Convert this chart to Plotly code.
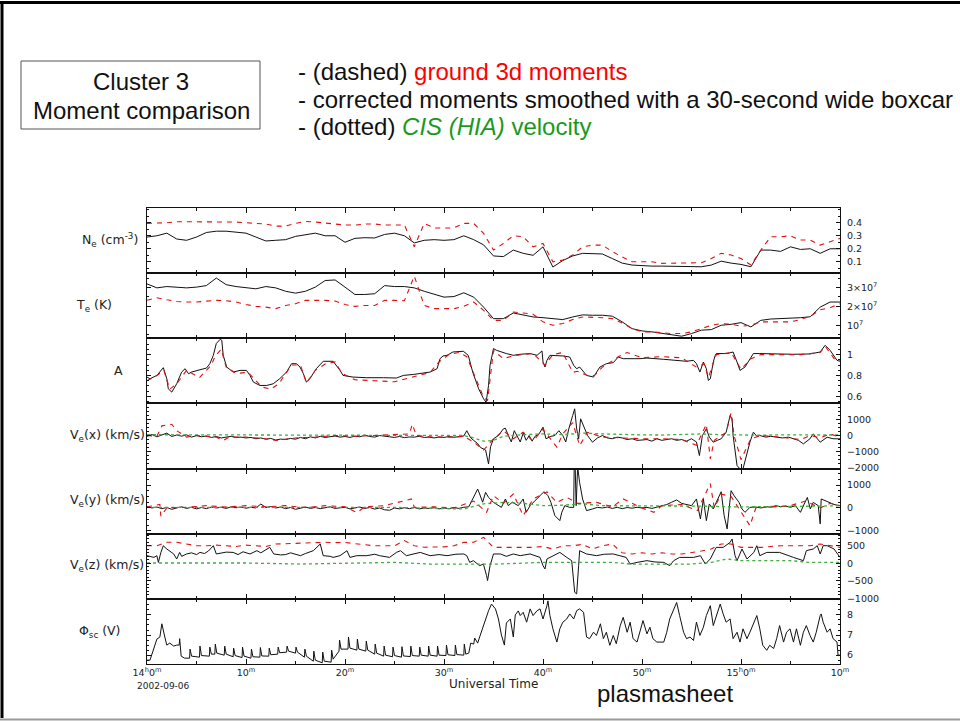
import plotly.graph_objects as go
from plotly.subplots import make_subplots

# ---------------- data (time in minutes after 14:00 UT) ----------------
ne_t = list(range(0, 71))
ne_black = [0.29, 0.30, 0.32, 0.275, 0.265, 0.29, 0.325, 0.335, 0.335, 0.325,
            0.32, 0.29, 0.26, 0.265, 0.27, 0.295, 0.31, 0.32, 0.30, 0.30,
            0.25, 0.28, 0.285, 0.283, 0.31, 0.32, 0.30, 0.245, 0.265, 0.27,
            0.265, 0.27, 0.30, 0.27, 0.23, 0.145, 0.14, 0.19, 0.165, 0.15,
            0.215, 0.06, 0.11, 0.145, 0.165, 0.16, 0.16, 0.125, 0.09, 0.075,
            0.07, 0.067, 0.067, 0.067, 0.067, 0.062, 0.062, 0.075, 0.105, 0.09,
            0.08, 0.062, 0.19, 0.19, 0.18, 0.215, 0.195, 0.20, 0.165, 0.20, 0.20]
ne_red = [0.395, 0.395, 0.40, 0.408, 0.408, 0.408, 0.405, 0.405, 0.408, 0.405,
          0.40, 0.395, 0.39, 0.374, 0.374, 0.395, 0.41, 0.405, 0.40, 0.39,
          0.382, 0.382, 0.39, 0.39, 0.382, 0.382, 0.382, 0.215, 0.395, 0.36,
          0.36, 0.36, 0.395, 0.395, 0.318, 0.19, 0.241, 0.30, 0.292, 0.215,
          0.241, 0.10, 0.113, 0.152, 0.215, 0.228, 0.228, 0.178, 0.138, 0.10,
          0.10, 0.10, 0.088, 0.088, 0.088, 0.088, 0.093, 0.125, 0.165, 0.152,
          0.125, 0.075, 0.19, 0.292, 0.292, 0.30, 0.267, 0.267, 0.228, 0.254, 0.28]

te_t = list(range(0, 71))   # Te in units of 1e7 K
te_black = [3.19, 2.98, 3.05, 3.02, 2.98, 3.02, 3.10, 3.5, 3.15, 3.05,
            2.98, 2.93, 3.05, 2.98, 2.80, 2.70, 2.80, 3.02, 3.37, 3.40,
            3.02, 2.63, 2.63, 2.67, 3.1, 3.05, 3.05, 2.98, 2.80, 2.63,
            2.49, 2.52, 2.72, 2.49, 1.96, 1.35, 1.35, 1.65, 1.53, 1.44,
            1.40, 1.35, 1.30, 1.44, 1.55, 1.53, 1.53, 1.48, 1.18, 0.82,
            0.70, 0.65, 0.56, 0.47, 0.42, 0.56, 0.74, 0.77, 1.0, 1.05,
            1.14, 0.91, 1.26, 1.33, 1.35, 1.35, 1.40, 1.45, 1.96, 2.23, 2.23]
te_red = [2.32, 2.46, 2.35, 2.26, 2.23, 2.23, 2.28, 2.32, 2.30, 2.23,
          2.10, 2.0, 1.96, 1.88, 2.05, 2.14, 2.32, 2.32, 2.32, 2.28,
          2.10, 2.0, 2.05, 2.05, 2.32, 2.32, 2.30, 3.6, 2.05, 1.88,
          1.88, 1.88, 2.0, 2.23, 1.79, 1.26, 1.26, 1.70, 1.65, 1.58,
          1.18, 1.0, 1.09, 1.30, 1.44, 1.44, 1.40, 1.35, 1.12, 0.82,
          0.65, 0.65, 0.60, 0.56, 0.56, 0.65, 0.82, 1.0, 1.09, 1.05,
          0.95, 1.0, 1.18, 1.18, 1.18, 1.18, 1.30, 1.48, 1.82, 1.93, 2.14]

a_t = [0, 0.3, 1.0, 1.3, 1.65, 2.0, 2.15, 2.5, 3.0, 3.5,
       3.85, 4.2, 4.5, 5.35, 6.0, 6.35, 6.7, 7.0, 7.4, 7.55,
       7.7, 8.05, 8.7, 9.4, 10.05, 10.4, 10.75, 11.4, 12.1, 12.75,
       13.4, 14.1, 14.6, 15.1, 15.45, 15.8, 16.1, 16.45, 17.1, 17.8,
       18.8, 19.5, 19.8, 20.8, 22.2, 23.9, 25.2, 25.9, 26.9, 28.6,
       29.3, 29.6, 29.9, 30.3, 30.9, 31.95, 32.45, 32.9, 33.5, 34.0,
       34.25, 34.5, 34.65, 35.0, 35.3, 36.3, 37.0, 37.7, 38.7, 39.4,
       39.9, 40.0, 40.2, 40.4, 40.7, 42.0, 42.7, 43.1, 43.4, 43.7,
       44.4, 45.1, 45.75, 46.4, 47.1, 47.6, 48.1, 49.8, 50.5, 52.2,
       53.5, 54.5, 55.2, 55.5, 55.85, 56.2, 56.5, 56.7, 56.9, 57.2,
       57.4, 57.5, 58.6, 59.2, 59.6, 59.9, 60.4, 60.9, 61.25, 61.9,
       63.6, 65.3, 66.96, 68.0, 68.5, 69.0, 69.7, 70.0]
a_black = [0.785, 0.769, 0.801, 0.833, 0.875, 0.769, 0.673, 0.641, 0.721, 0.833,
           0.865, 0.817, 0.833, 0.855, 0.871, 0.913, 0.993, 1.106, 1.147, 1.137,
           0.993, 0.881, 0.833, 0.849, 0.849, 0.801, 0.737, 0.705, 0.705, 0.721,
           0.769, 0.833, 0.913, 0.913, 0.881, 0.817, 0.737, 0.769, 0.865, 0.936,
           0.936, 0.849, 0.801, 0.785, 0.779, 0.779, 0.776, 0.801, 0.81, 0.833,
           0.865, 0.961, 0.987, 0.993, 1.025, 1.032, 0.993, 0.833, 0.673, 0.577,
           0.544, 0.705, 0.897, 1.058, 1.041, 1.01, 0.993, 1.003, 1.01, 0.993,
           1.035, 0.929, 0.881, 0.945, 0.993, 0.987, 0.977, 0.897, 0.865, 0.881,
           0.801, 0.785, 0.881, 0.913, 0.923, 0.977, 0.961, 0.961, 0.967, 0.955,
           0.945, 0.936, 0.945, 0.913, 0.833, 0.929, 0.865, 0.753, 0.769, 0.929,
           0.993, 1.01, 1.01, 1.025, 0.929, 0.849, 0.881, 0.961, 1.01, 1.01,
           1.003, 1.003, 1.006, 1.025, 1.089, 1.041, 0.945, 0.936]
a_red_t = [0, 1, 1.7, 2.3, 3, 4, 5.3, 6.5, 6.9, 7.5,
           8, 9, 10.2, 11.6, 12.5, 13.3, 14.6, 15.5, 16.1, 17,
           18, 19, 19.7, 21, 23, 25, 27, 28.6, 29.5, 30.5,
           31.5, 32.3, 33, 34, 34.4, 35, 36, 37, 38, 39,
           40.2, 41, 42, 43, 43.5, 44.5, 45.2, 46, 47, 47.6,
           48.5, 50, 52, 54, 55.5, 56.3, 56.7, 57.5, 59, 60,
           61, 62, 64, 66, 68, 68.5, 69.5, 70]
a_red = [0.75, 0.80, 0.85, 0.67, 0.72, 0.85, 0.78, 0.90, 0.99, 1.05,
         0.88, 0.82, 0.83, 0.69, 0.67, 0.72, 0.90, 0.90, 0.73, 0.85,
         0.91, 0.93, 0.82, 0.76, 0.75, 0.74, 0.79, 0.83, 0.93, 1.0,
         1.02, 0.98, 0.82, 0.59, 0.56, 1.04, 0.96, 0.99, 1.00, 1.01,
         0.90, 1.0, 1.02, 0.83, 0.84, 0.80, 0.80, 0.88, 0.94, 0.98,
         1.02, 0.97, 0.98, 0.97, 0.88, 0.91, 0.78, 1.0, 1.02, 0.86,
         0.96, 1.0, 1.0, 1.0, 1.02, 1.08, 0.95, 0.95]

vx_t = [0, 0.5, 1, 1.5, 2, 2.5, 3, 3.5, 4, 4.5,
        5, 5.5, 6, 6.5, 7, 7.5, 8, 8.5, 9, 9.5,
        10, 10.5, 11, 11.5, 12, 12.5, 13, 13.5, 14, 14.5,
        15, 15.5, 16, 16.5, 17, 17.5, 18, 18.5, 19, 19.5,
        20, 20.5, 21, 21.5, 22, 22.5, 23, 23.5, 24, 24.5,
        25, 25.5, 26, 26.5, 27, 27.5, 28, 28.5, 29, 29.5,
        30, 30.5, 31, 31.5, 32,
        32.3, 32.7, 33, 33.4, 33.7, 34.0, 34.2, 34.5, 34.7, 35.0,
        35.5, 36.0, 36.2, 36.5, 36.8, 37.1, 37.4, 37.7, 38.0, 38.3,
        38.6, 38.9, 39.2, 39.6, 40.0, 40.3, 40.8, 41.2, 41.6, 42.0,
        42.3, 42.6, 43.0, 43.2, 43.4, 43.6, 43.8, 44.1, 44.5, 45.0,
        45.5, 46.0, 46.5, 47.0, 47.5, 48.0, 48.5, 49.0, 49.5, 50.0,
        50.5, 51.0, 51.5, 52.0, 52.5, 53.0, 53.5, 54.0, 54.5, 55.0,
        55.5, 55.8, 56.1, 56.5, 56.8, 57.2, 57.6, 58.0, 58.5, 58.9,
        59.1, 59.2, 59.6, 59.9, 60.2, 60.6, 60.9, 61.25, 61.6, 61.9,
        62.5, 63.0, 63.6, 64.2, 64.8, 65.3, 65.8, 66.3, 66.96, 67.3,
        67.7, 68.0, 68.7, 69.3, 70.0]
vx_black = [-50, 60, -80, 20, 150, -60, 30, -40, 40, -100,
            0, -80, -30, -120, -60, -150, -100, -50, -120, -100,
            -150, -120, -200, -150, -230, -180, -280, -220, -250, -180,
            -230, -120, -200, -80, -150, -50, -120, -80, -30, -100,
            -60, -120, -40, -80, 20, -60, -100, 0, -60, -80,
            -120, -60, -130, -90, -100, -50, -120, -100, -150, -90,
            -120, -60, -110, -80, -30,
            300, -150, -300, -500, -750, -820, -900, -1760, -700, -200,
            0, 414, 450, 0, -400, 300, -100, -400, 150, -300,
            0, -350, -50, 100, 517, -200, -50, 0, 300, 0,
            -400, 400, 1242, 1656, 414, -200, 1035, 600, 0, -414,
            -150, 0, -150, -200, -100, -150, -250, -200, -300, -280,
            -250, -350, -200, -300, -250, -200, -300, -250, -350, -200,
            -400, -1242, 0, 414, -100, -414, -300, -200, 200, 1242,
            1035, 0, -1863, -2070, -2070, -1035, -414, 207, -50, 0,
            -100, -50, -104, -150, -100, -207, -300, -518, -207, 104,
            -200, -414, -104, -200, -207]
vx_red_t = [0, 1, 1.5, 2.5, 3, 4, 5, 7, 7.7, 8.3,
            10, 12, 13, 15, 17, 19, 21, 23, 26.5, 26.8,
            27.2, 29, 31, 32, 33, 34, 35, 36, 37, 38,
            39, 40, 41.4, 42, 43, 43.7, 44.5, 46, 48, 50,
            52, 54, 55.5, 56.5, 56.9, 57.3, 58.5, 59, 59.3, 60,
            61, 62, 64, 66, 67, 68, 69, 70]
vx_red = [0, -50, 600, 700, 300, -100, 0, -100, -300, -100,
          -100, -200, -311, -150, -100, 0, -50, 0, 100, 700,
          0, -100, -100, -50, -400, -900, -200, 300, -200, 200,
          -350, 400, -725, 100, 800, -621, 200, -100, -150, -200,
          -200, -250, -600, 700, -1450, -300, 200, 1400, 0, -1500,
          -200, 0, -100, -250, 0, -150, 100, -100]
vx_green_t = [0, 5, 10, 15, 20, 25, 30, 32, 33, 34, 35, 36, 38, 40, 42,
              44, 46, 48, 50, 52, 54, 56, 58, 60, 62, 64, 66, 68, 70]
vx_green = [50, 40, 30, 30, 40, 30, 20, 0, -150, -350, -300, -50, 50, 100, 50,
            150, 100, 50, 40, 30, 50, 100, 50, 30, 20, 40, 50, 40, 30]

vy_t = [0, 0.5, 1, 1.5, 2, 2.5, 3, 3.5, 4, 4.5,
        5, 5.5, 6, 6.5, 7, 7.5, 8, 8.5, 9, 9.5,
        10, 10.5, 11, 11.5, 12, 12.5, 13, 13.5, 14, 14.5,
        15, 15.5, 16, 16.5, 17, 17.5, 18, 18.5, 19, 19.5,
        20, 20.5, 21, 21.5, 22, 22.5, 23, 23.5, 24, 24.5,
        25, 25.5, 26, 26.5, 27, 27.5, 28, 28.5, 29, 29.5,
        30, 30.5, 31, 31.5, 32, 32.5,
        32.9, 33.4, 33.6, 33.9, 34.2, 34.5, 35.0, 35.5, 35.8, 36.2,
        36.5, 36.9, 37.5, 38.0, 38.3, 38.7, 39.0, 39.4, 39.7, 40.1,
        40.5, 40.8, 41.2, 41.7, 41.9, 42.2, 42.7, 43.1, 43.15, 43.25,
        43.35, 43.5, 43.7, 44.0, 44.4, 45.0, 45.5, 46.0, 46.5, 47.0,
        47.5, 48.0, 48.5, 49.0, 49.5, 50.0, 50.5, 51.0, 51.5, 52.0,
        52.5, 53.0, 53.5, 54.0, 54.5, 55.0, 55.5, 55.9, 56.2, 56.5,
        56.8, 57.2, 57.5, 58.0, 58.3, 58.6, 58.8, 59.0, 59.3, 59.8,
        60.1, 60.4, 60.9, 61.5, 62.0, 62.5, 63.0, 63.5, 64.0, 64.5,
        65.0, 65.5, 66.0, 66.3, 66.7, 67.0, 67.3, 67.8, 68.0, 68.1,
        68.8, 69.4, 70.0]
vy_black = [60, 0, 40, -30, 20, -60, 0, 50, -20, 30,
            -40, 20, -30, 40, 0, 30, -20, 50, 10, 40,
            -10, 30, 0, 170, 20, 60, 0, 40, -30, 20,
            -60, 0, 40, -20, 20, -30, 10, 50, -20, 0,
            30, -40, 10, 40, -20, 20, -50, 0, -80, -100,
            0, -40, 10, -30, 20, -40, 0, -20, 10, -40,
            0, -30, 20, -20, 30, 50,
            391, 826, 609, 250, 680, 460, 244, 100, 26, 391,
            100, 250, 100, 391, -191, 100, 244, 391, 535, 709,
            535, 244, -335, -552, -191, 100, 26, 26, 1800, 1800,
            100, 1800, 1100, 391, -117, -43, 26, 0, 40, -20,
            30, -30, 20, -10, 30, 0, 26, -20, 40, 100,
            150, 250, 350, 200, 150, 100, 391, -480, 391, -552,
            170, -43, 244, 709, -335, -913, -43, 753, 535, 244,
            -43, -190, 26, 40, 0, 60, 30, 100, 50, 80,
            30, 100, -190, 100, 461, -43, 244, 100, -696, 391,
            244, 150, 100]
vy_red_t = [0, 1.3, 1.4, 2, 4, 6, 8, 10, 12, 14,
            16, 18, 20, 21.2, 22, 24, 26.7, 27, 29, 31,
            33, 34.3, 35.0, 36, 37.0, 38.0, 39.0, 40.4, 41.4, 42.4,
            43.5, 45.4, 47, 48.1, 50, 51.2, 52, 54, 55.6, 56.9,
            57.3, 58.0, 59, 60.9, 61.5, 63, 65, 66.5, 68, 69, 70]
vy_red = [50, 150, -360, 0, 30, 100, 40, 100, 50, 100,
          20, 100, 50, -200, 50, 100, 391, 30, 50, 0,
          300, -190, 535, 200, 609, -335, 391, 700, 244, 461,
          200, 244, 50, 391, 0, -191, 100, 150, -117, 1060,
          0, 600, 500, -770, 0, 50, 100, 300, 0, 200, 100]
vy_green_t = [0, 5, 10, 15, 20, 25, 30, 32, 34, 36, 38, 40, 42, 44,
              46, 48, 50, 52, 54, 56, 58, 60, 62, 64, 66, 68, 70]
vy_green = [26, 20, 30, 26, 20, 26, -30, -43, 180, 240, 200, 100, 120, 180,
            100, 100, 110, 100, 100, 80, 60, 40, 60, 60, 50, 80, 100]

vz_t = [0, 0.7, 1.0, 1.15, 1.4, 1.65, 2.0, 2.5, 2.7, 3.0,
        3.3, 3.5, 4.0, 4.5, 5.0, 5.35, 5.8, 6.2, 6.7, 7.0,
        7.5, 8.0, 8.7, 9.2, 9.7, 10.4, 11.1, 11.5, 12.4, 12.8,
        13.5, 14.0, 14.5, 15.5, 16.0, 16.8, 17.5, 17.8, 18.5, 18.8,
        19.5, 20.2, 20.5, 21.2, 22.2, 23.0, 23.5, 24.5, 25.2, 25.6,
        26.2, 26.9, 27.6, 28.6, 29.5, 30.3, 31.2, 32.0, 32.3, 32.6,
        32.96, 33.6, 33.98, 34.3, 34.4, 34.65, 35.0, 35.7, 36.3, 37.0,
        37.7, 38.7, 39.7, 40.0, 40.2, 40.4, 41.05, 41.7, 42.4, 42.9,
        43.2, 43.4, 43.6, 43.7, 44.4, 45.4, 46.2, 47.1, 48.4, 48.8,
        49.5, 50.5, 51.3, 52.2, 52.8, 53.2, 53.8, 55.2, 55.9, 56.4,
        56.9, 57.5, 58.2, 58.9, 59.1, 59.4, 59.6, 60.1, 60.6, 61.3,
        61.6, 61.9, 62.6, 63.9, 65.3, 66.3, 66.6, 67.3, 67.7, 68.0,
        68.3, 68.7, 69.4, 70.0]
vz_black = [219, 170, 219, 28, 312, 500, 409, 300, 267, 125,
            312, 200, 267, 300, 250, 312, 280, 350, 503, 267,
            300, 320, 312, 250, 330, 267, 361, 300, 455, 267,
            240, 250, 300, 219, 280, 361, 551, 219, 200, 170,
            220, 361, 170, 219, 219, 260, 219, 170, 312, 361,
            219, 267, 312, 219, 250, 219, 260, 267, 219, 28,
            77, -65, -19, -349, -491, -65, 267, 267, 200, 267,
            220, 267, 170, -65, -159, 125, 219, 312, 170, 77,
            -824, -869, -65, 361, 267, 219, 260, 267, 170, -19,
            28, 77, 40, 28, -65, 77, 170, 170, 219, -19,
            125, 455, 455, 597, 693, 219, 77, 409, 125, 312,
            503, 219, 312, 312, 170, 77, 361, 409, 503, 267,
            503, 503, 409, 170]
vz_red_t = list(range(0, 71))
vz_red = [500, 503, 600, 600, 550, 500, 500, 520, 500, 480,
          520, 500, 480, 550, 560, 580, 600, 590, 600, 590,
          597, 560, 520, 500, 500, 500, 650, 500, 460, 455,
          470, 500, 597, 600, 740, 455, 455, 460, 455, 455,
          480, 409, 500, 500, 540, 409, 500, 550, 300, 267,
          300, 267, 300, 267, 267, 300, 350, 409, 551, 551,
          455, 455, 455, 480, 503, 500, 503, 503, 551, 500, 455]
vz_green_t = [0, 5, 7, 10, 15.5, 20, 25, 28.6, 32, 35.5, 40,
              45, 47, 48.8, 52, 55, 57, 58.6, 60, 65, 67, 70]
vz_green = [10, 10, 28, 10, -19, 10, 28, -19, -19, -19, 28,
            28, 28, -19, -19, -19, 28, 125, 77, 77, 28, 28]

phi_t = [0.0, 0.3, 0.6, 1.0, 1.3, 1.5, 1.8, 2.0, 2.3, 2.7, 3.0, 3.25, 3.3, 3.45, 3.8,
         4.30, 4.35, 4.50, 5.30, 5.35, 5.50, 6.30, 6.35, 6.50, 6.85, 6.90, 7.05,
         7.80, 7.85, 8.00, 8.70, 8.75, 8.90, 9.60, 9.65, 9.80, 10.50, 10.55, 10.70,
         11.40, 11.45, 11.60, 12.30, 12.35, 12.50, 13.20, 13.25, 13.40, 14.10, 14.15, 14.30,
         15.00, 15.05, 15.20, 15.90, 15.95, 16.10, 16.80, 16.85, 17.00, 17.70, 17.75, 17.90,
         18.60, 18.65, 18.80, 19.40, 19.45, 19.60, 20.30, 20.35, 20.50, 21.20, 21.25, 21.40,
         22.10, 22.15, 22.30, 23.00, 23.05, 23.20, 23.90, 23.95, 24.10, 24.80, 24.85, 25.00,
         25.70, 25.75, 25.90, 26.60, 26.65, 26.80, 27.50, 27.55, 27.70, 28.40, 28.45, 28.60,
         29.30, 29.35, 29.50, 30.20, 30.25, 30.40, 31.10, 31.15, 31.30, 32.00, 32.05, 32.20,
         32.5, 32.7, 33.0, 33.1, 33.4, 33.6, 34.0, 34.3, 34.5, 34.8,
         35.2, 35.5, 35.8, 36.1, 36.3, 36.7, 37.0, 37.2, 37.5,
         37.7, 38.0, 38.35, 38.7, 39.0, 39.4, 39.7, 40.0, 40.4, 40.5,
         40.7, 41.0, 41.4, 41.7, 42.0, 42.4, 42.7, 43.1, 43.4, 43.7,
         44.1, 44.4, 44.7, 45.1, 45.4, 45.8, 46.1, 46.4, 46.75, 47.1,
         47.4, 47.8, 48.1, 48.5, 48.8, 49.1, 49.5, 49.8, 50.1, 50.5,
         50.8, 51.1, 51.5, 52.2, 52.5, 52.8, 53.2, 53.5, 53.8, 54.2,
         54.5, 54.85, 55.2, 55.5, 55.85, 56.2, 56.5, 56.9, 57.2, 57.5,
         57.9, 58.2, 58.5, 58.9, 59.2, 59.6, 59.9, 60.2, 60.6, 60.9,
         61.2, 61.6, 61.9, 62.2, 62.6, 62.9, 63.3, 63.6, 63.9, 64.3,
         64.6, 64.95, 65.3, 65.6, 66.0, 66.3, 66.6, 66.97, 67.3, 67.6,
         68.0, 68.1, 68.3, 68.7, 69.0, 69.3, 69.7, 69.8, 70.0]
phi_v = [5.75, 5.75, 6.2, 6.8, 6.9, 7.56, 6.9, 6.5, 6.6, 6.45, 6.5, 6.5, 6.82, 5.95, 5.85,
         5.85, 6.30, 5.95, 5.90, 6.45, 5.98, 5.95, 6.40, 6.05, 6.05, 6.55, 6.10,
         6.00, 6.45, 6.05, 5.92, 6.35, 5.98, 5.88, 6.40, 5.95, 5.85, 6.30, 5.92,
         5.90, 6.38, 5.96, 5.95, 6.35, 6.02, 6.05, 6.40, 6.12, 6.15, 6.45, 6.20,
         6.10, 6.40, 6.15, 5.90, 6.30, 5.95, 5.70, 6.20, 5.75, 5.62, 6.15, 5.70,
         5.65, 6.25, 5.80, 6.20, 6.75, 6.30, 6.30, 6.90, 6.35, 6.25, 6.80, 6.30,
         6.20, 6.70, 6.25, 6.05, 6.55, 6.10, 5.95, 6.45, 6.00, 5.92, 6.40, 5.98,
         5.90, 6.42, 5.96, 5.93, 6.45, 5.98, 5.95, 6.40, 6.00, 5.95, 6.45, 6.00,
         5.95, 6.45, 6.00, 5.98, 6.50, 6.02, 5.98, 6.50, 6.03, 6.00, 6.55, 6.05,
         6.10, 6.60, 6.55, 6.85, 6.60, 6.90, 7.47, 8.00, 8.21, 8.54,
         8.30, 7.80, 7.00, 6.50, 7.60, 7.80, 6.90, 8.00, 8.20,
         7.97, 8.13, 7.64, 8.30, 7.97, 8.21, 8.30, 7.80, 8.46, 8.70,
         7.97, 7.31, 6.65, 7.31, 7.64, 7.80, 8.05, 7.80, 8.21, 8.30,
         8.13, 6.90, 6.82, 7.14, 6.98, 7.56, 6.82, 7.14, 6.49, 6.98,
         6.57, 7.47, 7.88, 7.14, 7.64, 6.82, 6.65, 7.14, 7.72, 7.06,
         7.39, 6.82, 6.65, 6.65, 7.14, 7.80, 8.30, 8.62, 7.97, 7.14,
         6.82, 6.90, 6.73, 7.64, 6.98, 7.39, 7.97, 8.46, 7.47, 7.97,
         8.54, 8.05, 7.64, 7.80, 6.82, 7.14, 6.65, 7.31, 6.82, 7.14,
         7.47, 7.97, 7.31, 6.49, 6.24, 6.49, 6.33, 6.82, 7.47, 6.65,
         7.14, 7.31, 6.65, 7.31, 6.49, 7.14, 7.47, 6.98, 6.65, 7.14,
         7.97, 8.05, 7.64, 7.14, 7.31, 6.82, 6.65, 6.00, 6.00]

x_tickvals = [0, 10, 20, 30, 40, 50, 60, 70]
x_ticktext = ["14<sup>h</sup>0<sup>m</sup>", "10<sup>m</sup>", "20<sup>m</sup>", "30<sup>m</sup>",
              "40<sup>m</sup>", "50<sup>m</sup>", "15<sup>h</sup>0<sup>m</sup>", "10<sup>m</sup>"]

panel_labels = ["N<sub>e</sub> (cm<sup>-3</sup>)", "T<sub>e</sub> (K)", "A",
                "V<sub>e</sub>(x) (km/s)", "V<sub>e</sub>(y) (km/s)", "V<sub>e</sub>(z) (km/s)",
                "\u03a6<sub>sc</sub> (V)"]

# ---------------- layout helpers ----------------
W, H = 960, 721
L, R, T, B = 147, 840, 208, 664


def px(x):
    return (x - L) / (R - L)


def py(y):
    return (B - y) / (B - T)


BLACK = "#111111"
RED = "#e01010"
GREEN = "#3cb03c"

fig = make_subplots(rows=7, cols=1, shared_xaxes=True, vertical_spacing=0)


def black(x, y, row):
    fig.add_trace(go.Scatter(x=x, y=y, mode="lines", line=dict(color=BLACK, width=1),
                             hoverinfo="skip"), row=row, col=1)


def red(x, y, row):
    fig.add_trace(go.Scatter(x=x, y=y, mode="lines",
                             line=dict(color=RED, width=1.1, dash="5px,5px"),
                             hoverinfo="skip"), row=row, col=1)


def green(x, y, row):
    fig.add_trace(go.Scatter(x=x, y=y, mode="lines",
                             line=dict(color=GREEN, width=1.3, dash="dot"),
                             hoverinfo="skip"), row=row, col=1)


black(ne_t, ne_black, 1); red(ne_t, ne_red, 1)
black(te_t, te_black, 2); red(te_t, te_red, 2)
black(a_t, a_black, 3); red(a_red_t, a_red, 3)
black(vx_t, vx_black, 4); green(vx_green_t, vx_green, 4); red(vx_red_t, vx_red, 4)
black(vy_t, vy_black, 5); green(vy_green_t, vy_green, 5); red(vy_red_t, vy_red, 5)
black(vz_t, vz_black, 6); green(vz_green_t, vz_green, 6); red(vz_red_t, vz_red, 6)
black(phi_t, phi_v, 7)

yspecs = [
    dict(range=[0.013, 0.513], tickvals=[0.1, 0.2, 0.3, 0.4], ticktext=["0.1", "0.2", "0.3", "0.4"], minor=0.05),
    dict(range=[0.31, 3.76], tickvals=[1, 2, 3],
         ticktext=["10<sup>7</sup>", "2\u00d710<sup>7</sup>", "3\u00d710<sup>7</sup>"], minor=0.5),
    dict(range=[0.533, 1.156], tickvals=[0.6, 0.8, 1.0], ticktext=["0.6", "0.8", "1"], minor=0.05),
    dict(range=[-2050, 1990], tickvals=[-2000, -1000, 0, 1000],
         ticktext=["\u22122000", "\u22121000", "0", "1000"], minor=250),
    dict(range=[-1122, 1716], tickvals=[-1000, 0, 1000], ticktext=["\u22121000", "0", "1000"], minor=250),
    dict(range=[-1010, 844], tickvals=[-1000, -500, 0, 500],
         ticktext=["\u22121000", "\u2212500", "0", "500"], minor=100),
    dict(range=[5.56, 8.80], tickvals=[6, 7, 8], ticktext=["6", "7", "8"], minor=0.25),
]

tickfont = dict(family="DejaVu Sans", size=9.5, color="#222222")
for i, s in enumerate(yspecs, start=1):
    fig.update_yaxes(row=i, col=1, range=s["range"], tickvals=s["tickvals"], ticktext=s["ticktext"],
                     side="right", ticks="inside", ticklen=4, tickcolor=BLACK, mirror="ticks",
                     showline=True, linecolor=BLACK, linewidth=1, showgrid=False, zeroline=False,
                     tickfont=tickfont, ticklabelstandoff=4,
                     minor=dict(dtick=s["minor"], ticks="inside", ticklen=2, tickcolor=BLACK, showgrid=False))
    fig.update_xaxes(row=i, col=1, range=[0, 70], tickvals=x_tickvals, ticktext=x_ticktext,
                     ticks="inside", ticklen=5, tickcolor=BLACK, mirror="ticks", showline=True,
                     linecolor=BLACK, linewidth=1, showgrid=False, zeroline=False,
                     showticklabels=(i == 7), tickfont=tickfont,
                     minor=dict(tickvals=[5, 15, 25, 35, 45, 55, 65], ticks="inside", ticklen=3,
                                tickcolor=BLACK, showgrid=False))

annotations = []
label_pos = [(110, 240), (94, 305), (118, 370), (107, 435), (107, 500), (107, 565), (100, 631)]
for text, (x, y) in zip(panel_labels, label_pos):
    annotations.append(dict(text=text, x=px(x), y=py(y), xref="paper", yref="paper",
                            xanchor="center", yanchor="middle", showarrow=False,
                            font=dict(family="DejaVu Sans", size=12.5, color="#222222")))

annotations += [
    dict(text="2002-09-06", x=px(135), y=py(686), xref="paper", yref="paper", xanchor="left",
         yanchor="middle", showarrow=False, font=dict(family="DejaVu Sans", size=9, color="#222222")),
    dict(text="Universal Time", x=px(493), y=py(684), xref="paper", yref="paper", xanchor="center",
         yanchor="middle", showarrow=False, font=dict(family="DejaVu Sans", size=12, color="#222222")),
    dict(text="plasmasheet", x=px(595), y=py(693), xref="paper", yref="paper", xanchor="left",
         yanchor="middle", showarrow=False, font=dict(family="Liberation Sans", size=24, color="#111111")),
    dict(text="Cluster 3", x=px(141), y=py(81), xref="paper", yref="paper", xanchor="center",
         yanchor="middle", showarrow=False, font=dict(family="Liberation Sans", size=24, color="#111111")),
    dict(text="Moment comparison", x=px(141), y=py(111), xref="paper", yref="paper", xanchor="center",
         yanchor="middle", showarrow=False, font=dict(family="Liberation Sans", size=24, color="#111111")),
    dict(text="- (dashed) <span style='color:#ff0000'>ground 3d moments</span>", x=px(296), y=py(72),
         xref="paper", yref="paper", xanchor="left", yanchor="middle", showarrow=False,
         font=dict(family="Liberation Sans", size=24, color="#111111")),
    dict(text="- corrected moments smoothed with a 30-second wide boxcar", x=px(296), y=py(99),
         xref="paper", yref="paper", xanchor="left", yanchor="middle", showarrow=False,
         font=dict(family="Liberation Sans", size=24, color="#111111")),
    dict(text="- (dotted) <span style='color:#1a9a1a'><i>CIS (HIA)</i> velocity</span>", x=px(296), y=py(126),
         xref="paper", yref="paper", xanchor="left", yanchor="middle", showarrow=False,
         font=dict(family="Liberation Sans", size=24, color="#111111")),
]

shapes = [
    dict(type="rect", xref="paper", yref="paper", x0=px(21), x1=px(260), y0=py(61), y1=py(129),
         line=dict(color="#555555", width=1)),
    dict(type="line", xref="paper", yref="paper", x0=px(0), x1=px(960), y0=py(2.5), y1=py(2.5),
         line=dict(color="#000000", width=3)),
    dict(type="line", xref="paper", yref="paper", x0=px(2), x1=px(2), y0=py(1), y1=py(718),
         line=dict(color="#000000", width=3)),
    dict(type="line", xref="paper", yref="paper", x0=px(0), x1=px(960), y0=py(719.5), y1=py(719.5),
         line=dict(color="#999999", width=2)),
]

fig.update_layout(width=W, height=H, margin=dict(l=L, r=W - R, t=T, b=H - B),
                  paper_bgcolor="white", plot_bgcolor="white", showlegend=False,
                  annotations=annotations, shapes=shapes)

fig.write_html("out.html")
